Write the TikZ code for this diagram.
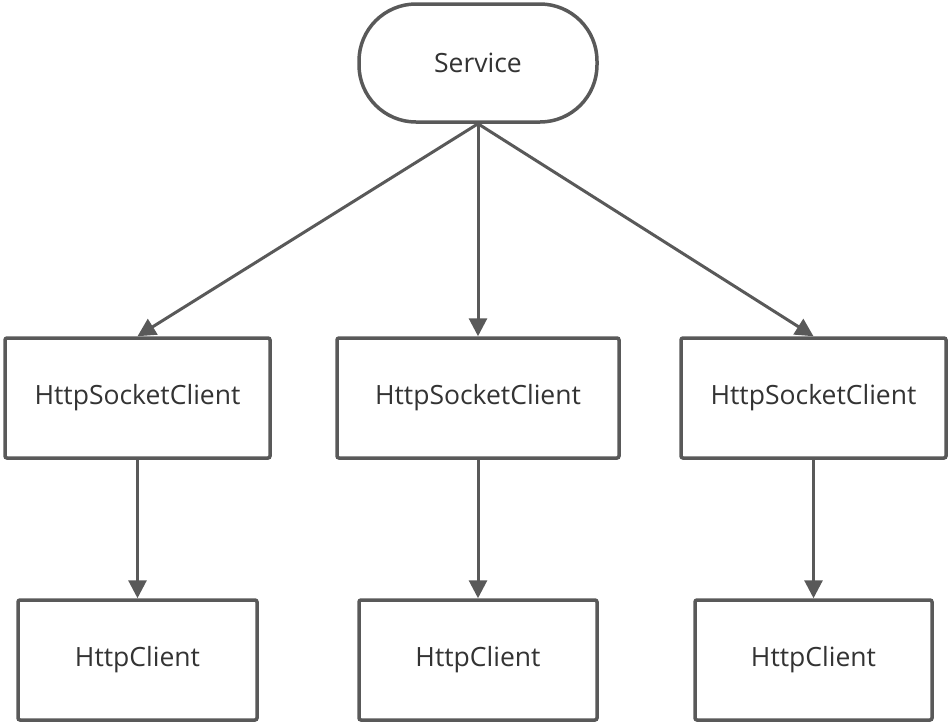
\documentclass[tikz,border=0pt]{standalone}
\usepackage{fontspec}
\setmainfont{Open Sans}
\usetikzlibrary{arrows.meta}
\definecolor{edge}{HTML}{595959}
\definecolor{txt}{HTML}{333333}
\tikzset{
  box/.style={draw=edge, line width=3.5pt, fill=white, text=txt, font=\fontsize{26.5}{30}\selectfont, minimum height=120pt, inner sep=0pt, rounded corners=2pt},
  pill/.style={box, minimum width=238pt, minimum height=118pt, rounded corners=57pt},
  conn/.style={draw=edge, line width=3pt, -{Triangle[length=18pt,width=18pt]}}
}
\begin{document}
\begin{tikzpicture}[x=1pt,y=-1pt]
\useasboundingbox (0,0) rectangle (952,723);
\node[pill] (svc) at (478,63) {Service};
\node[box, minimum width=265pt] (s1) at (137.5,398) {HttpSocketClient};
\node[box, minimum width=282pt] (s2) at (478,398) {HttpSocketClient};
\node[box, minimum width=265pt] (s3) at (813.5,398) {HttpSocketClient};
\node[box, minimum width=239pt] (c1) at (137.5,660) {HttpClient};
\node[box, minimum width=238pt] (c2) at (478,660) {HttpClient};
\node[box, minimum width=237pt] (c3) at (813.5,660) {HttpClient};
\draw[conn] (svc.south) -- (s1.north);
\draw[conn] (svc.south) -- (s2.north);
\draw[conn] (svc.south) -- (s3.north);
\draw[conn] (s1.south) -- (c1.north);
\draw[conn] (s2.south) -- (c2.north);
\draw[conn] (s3.south) -- (c3.north);
\end{tikzpicture}
\end{document}
